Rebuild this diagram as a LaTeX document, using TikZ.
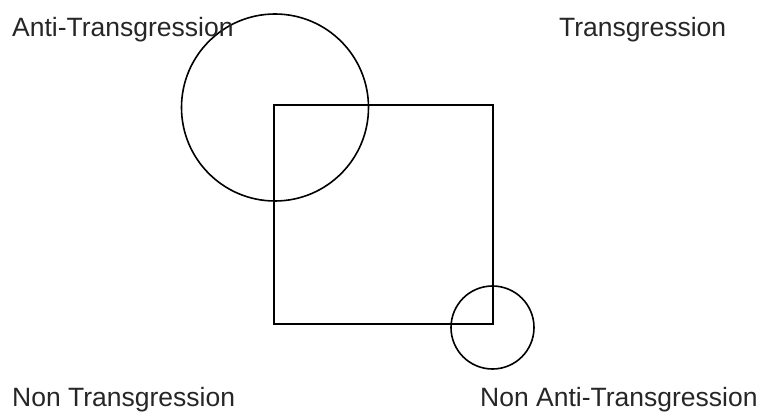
\documentclass[tikz,border=0pt]{standalone}
\usepackage{fontspec}
\setmainfont{Liberation Sans}
\begin{document}
\begin{tikzpicture}[x=1pt,y=-1pt,
  shapeline/.style={draw=black,line width=1.6pt},
  lbl/.style={anchor=base west,inner sep=0pt,font=\fontsize{26.5}{31}\selectfont,text=black!85}]
\useasboundingbox (0,0) rectangle (758,414);
\node[shapeline,circle,minimum size=187pt,inner sep=0pt] (big) at (275,107.5) {};
\node[shapeline,rectangle,minimum width=219pt,minimum height=219pt,inner sep=0pt] (sq) at (383.5,214.5) {};
\node[shapeline,circle,minimum size=83pt,inner sep=0pt] (small) at (492.5,327.5) {};
\node[lbl] (at) at (12,37) {Anti-Transgression};
\node[lbl] (t) at (559,37) {Transgression};
\node[lbl] (nt) at (12,406) {Non Transgression};
\node[lbl] (nat) at (480,406) {Non Anti-Transgression};
\end{tikzpicture}
\end{document}
